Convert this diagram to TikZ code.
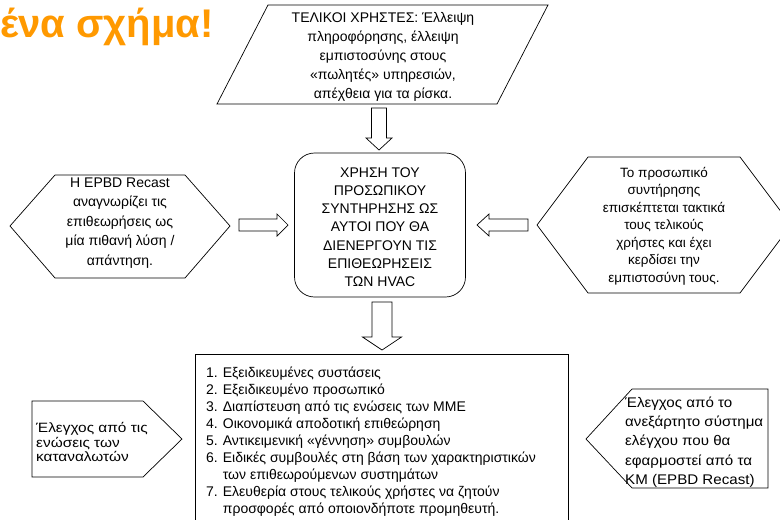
\documentclass[tikz,border=0pt]{standalone}
\usepackage{fontspec}
\setmainfont{Liberation Sans}
\newfontfamily\titlefont{Liberation Sans Bold}
\newfontfamily\widefont[FakeStretch=1.14]{Liberation Sans}
\newfontfamily\rwidefont[FakeStretch=1.08]{Liberation Sans}
\definecolor{titleorange}{RGB}{255,153,0}
\begin{document}
\begin{tikzpicture}[x=1pt,y=-1pt,
  shapeline/.style={draw=black,line width=0.7pt,fill=white},
  blockarrow/.style={draw=black,line width=0.7pt,fill=white,line join=miter},
  txt/.style={align=center,inner sep=0pt,font=\fontsize{14}{19}\selectfont},
  ltxt/.style={align=left,inner sep=0pt},
]
\useasboundingbox (0,0) rectangle (780,520);
\clip (0,0) rectangle (780,520);

% title
\node[anchor=base east,inner sep=0pt,text=titleorange,font=\titlefont\fontsize{40}{42}\selectfont] (title) at (214,37) {ένα σχήμα!};

% top parallelogram
\draw[shapeline] (268,5) -- (548,5) -- (497,104) -- (217,104) -- cycle;
\node[txt] (users) at (383,57) {ΤΕΛΙΚΟΙ ΧΡΗΣΤΕΣ: Έλλειψη\\πληροφόρησης, έλλειψη\\εμπιστοσύνης στους\\«πωλητές» υπηρεσιών,\\απέχθεια για τα ρίσκα.};

% central rounded box
\node[shapeline,rounded corners=20pt,minimum width=171pt,minimum height=144pt,inner sep=0pt] (center) at (380,225) {};
\node[txt,font=\fontsize{14}{18.2}\selectfont] (centertxt) at (380,227) {ΧΡΗΣΗ ΤΟΥ\\ΠΡΟΣΩΠΙΚΟΥ\\ΣΥΝΤΗΡΗΣΗΣ ΩΣ\\ΑΥΤΟΙ ΠΟΥ ΘΑ\\ΔΙΕΝΕΡΓΟΥΝ ΤΙΣ\\ΕΠΙΘΕΩΡΗΣΕΙΣ\\ΤΩΝ HVAC};

% left hexagon
\draw[shapeline] (10,226) -- (55,175) -- (185,175) -- (230,226) -- (185,278) -- (55,278) -- cycle;
\node[txt,font=\fontsize{14}{19.5}\selectfont] (epbd) at (120,223) {H EPBD Recast\\αναγνωρίζει τις\\επιθεωρήσεις ως\\μία πιθανή λύση /\\απάντηση.};

% right hexagon
\draw[shapeline] (537,225) -- (588,157) -- (740,157) -- (791,225) -- (740,293) -- (588,293) -- cycle;
\node[txt,font=\fontsize{13.5}{17.5}\selectfont] (staff) at (664,226) {Το προσωπικό\\συντήρησης\\επισκέπτεται τακτικά\\τους τελικούς\\χρήστες και έχει\\κερδίσει την\\εμπιστοσύνη τους.};

% block arrows
\draw[blockarrow] (371.5,108) -- (386.5,108) -- (386.5,138) -- (392,138) -- (379,150) -- (366,138) -- (371.5,138) -- cycle;
\draw[blockarrow] (239,219) -- (277,219) -- (277,214) -- (288,225) -- (277,236) -- (277,231) -- (239,231) -- cycle;
\draw[blockarrow] (528,219) -- (489,219) -- (489,214) -- (477,225) -- (489,236) -- (489,231) -- (528,231) -- cycle;
\draw[blockarrow] (372,302) -- (392,302) -- (392,337) -- (401.5,337) -- (382,350) -- (362.5,337) -- (372,337) -- cycle;

% bottom list box
\draw[shapeline] (195,354) rectangle (568,530);
\node[anchor=north west,inner sep=0pt,font=\fontsize{14}{17}\selectfont] (list) at (206,365) {%
\begin{tabular}{@{}r@{\hspace{5pt}}l@{}}
1. & Εξειδικευμένες συστάσεις\\
2. & Εξειδικευμένο προσωπικό\\
3. & Διαπίστευση από τις ενώσεις των ΜΜΕ\\
4. & Οικονομικά αποδοτική επιθεώρηση\\
5. & Αντικειμενική «γέννηση» συμβουλών\\
6. & Ειδικές συμβουλές στη βάση των χαρακτηριστικών\\
   & των επιθεωρούμενων συστημάτων\\
7. & Ελευθερία στους τελικούς χρήστες να ζητούν\\
   & προσφορές από οποιονδήποτε προμηθευτή.
\end{tabular}};

% left pentagon
\draw[shapeline] (32,401) -- (143,401) -- (182,439) -- (143,477) -- (32,477) -- cycle;
\node[ltxt,anchor=west,font=\widefont\fontsize{13.5}{14.5}\selectfont] (consumers) at (36,442) {Έλεγχος από τις\\ενώσεις των\\καταναλωτών};

% right pentagon
\draw[shapeline] (586,439) -- (632,389) -- (768,389) -- (768,488) -- (632,488) -- cycle;
\node[ltxt,anchor=west,font=\rwidefont\fontsize{14}{19.2}\selectfont] (independent) at (625,442) {Έλεγχος από το\\ανεξάρτητο σύστημα\\ελέγχου που θα\\εφαρμοστεί από τα\\KM (EPBD Recast)};
\end{tikzpicture}
\end{document}
